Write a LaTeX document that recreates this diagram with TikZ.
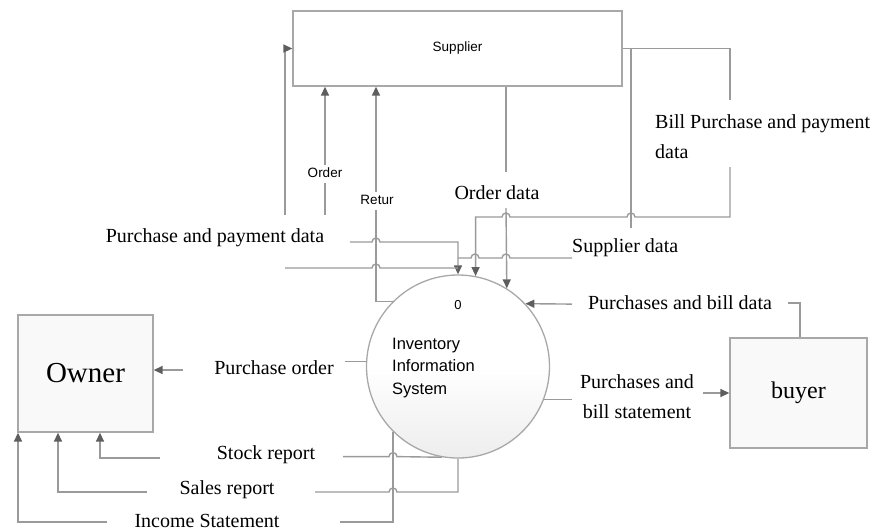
\documentclass[tikz,border=0pt]{standalone}
\usepackage{fontspec}
\setmainfont{Liberation Serif}
\newfontfamily\sansf{Liberation Sans}
\usetikzlibrary{arrows.meta}
\definecolor{lnc}{HTML}{9A9A9A}
\definecolor{ahc}{HTML}{5E5E5E}
\definecolor{bxc}{HTML}{A8A8A8}
\newcommand\jR[2]{-- ({#1-4},#2) arc[start angle=180,end angle=0,radius=4pt]}
\newcommand\jL[2]{-- ({#1+4},#2) arc[start angle=0,end angle=180,radius=4pt]}
\begin{document}
\begin{tikzpicture}[x=1pt,y=-1pt,
  flow/.style={draw=lnc, line width=1.4pt},
  arr/.style={flow, -{Triangle[length=9pt,width=8pt,color=ahc]}},
  lab/.style={font=\fontsize{20}{30}\selectfont, inner sep=0pt},
  slab/.style={font=\sansf\fontsize{13.5}{16}\selectfont, inner sep=0pt},
  ent/.style={draw=bxc, line width=1.3pt, rectangle}]
\useasboundingbox (0,0) rectangle (876,531);

% entities and process
\node[ent, minimum width=329pt, minimum height=75pt, fill=white,
      font=\sansf\fontsize{13.5}{15}\selectfont] (S) at (457.5,48.5) {Supplier};
\node[circle, draw=bxc, line width=1.3pt, minimum size=183pt, inner sep=0pt,
      top color=white, bottom color=gray!14, middle color=white] (P) at (458,366.5) {};
\node[ent, minimum width=135pt, minimum height=117pt, fill=gray!5,
      font=\fontsize{29}{34}\selectfont] (O) at (85.5,373.5) {Owner};
\node[ent, minimum width=137pt, minimum height=110pt, fill=gray!5,
      font=\fontsize{24}{28}\selectfont] (B) at (798.5,393) {buyer};

% texts
\node[font=\sansf\fontsize{13}{15}\selectfont, inner sep=0pt] (zero) at (458,305) {0};
\node[font=\sansf\fontsize{16.5}{22.5}\selectfont, align=left, anchor=west, inner sep=0pt]
      (iis) at (392,368) {Inventory\\Information\\System};
\node[slab] (ord) at (325,173) {Order};
\node[slab] (ret) at (377,200) {Retur};
\node[lab] (od) at (497,193) {Order data};
\node[lab, align=left, anchor=west] (bp) at (655,137) {Bill Purchase and payment\\data};
\node[lab, anchor=west] (sd) at (572,248) {Supplier data};
\node[lab] (ppd) at (215,238) {Purchase and payment data};
\node[lab] (pbd) at (680,303) {Purchases and bill data};
\node[lab, align=center] (pbs) at (637,397) {Purchases and\\bill statement};
\node[lab] (po) at (274,368) {Purchase order};
\node[lab] (sr) at (266,455) {Stock report};
\node[lab] (sar) at (227,490) {Sales report};
\node[lab] (inc) at (207,521) {Income Statement};

% coordinates for free ends
\coordinate (a1) at (285,215);
\coordinate (b1) at (350,242);
\coordinate (c1) at (285,268);
\coordinate (d1) at (572,258);
\coordinate (d2) at (631,228);
\coordinate (e0) at (730,48.5);
\coordinate (e1) at (730,100);
\coordinate (e2) at (730,167);
\coordinate (e3) at (730,217);
\coordinate (f1) at (506,172);
\coordinate (f2) at (506,208);
\coordinate (g1) at (325,165);
\coordinate (g2) at (325,183);
\coordinate (g3) at (325,215);
\coordinate (h1) at (376,192);
\coordinate (h2) at (376,210);
\coordinate (i1) at (572,304.1);
\coordinate (i2) at (788,303);
\coordinate (i3) at (800,303);
\coordinate (j1) at (572,398);
\coordinate (j2) at (703,393);
\coordinate (k1) at (345,370);
\coordinate (k2) at (183,370);
\coordinate (l1) at (343,456.6);
\coordinate (l2) at (160,458);
\coordinate (l3) at (100,458);
\coordinate (m1) at (315,492);
\coordinate (m2) at (147,492);
\coordinate (m3) at (58,492);
\coordinate (n1) at (340,522);
\coordinate (n2) at (107,522);
\coordinate (n3) at (18,522);

% Purchase and payment data
\draw[arr] (a1) |- (S.west);
\draw[arr] (b1) \jR{376}{242} -| (P.north);
\draw[flow] (c1) \jR{376}{268} -- (P.north |- c1);
% Supplier data
\draw[flow] (d1) \jL{506}{258} \jL{475}{258} -- (P.north |- d1);
\draw[flow] (d2) -- (d2 |- e0);
% Bill purchase and payment data
\draw[flow] (S.east) -- (e0) -- (e1);
\draw[arr] (e2) -- (e3) \jL{631}{217} \jL{506}{217} -| (P.79);
% Order data
\draw[flow] (f1) -- (f1 |- S.south);
\draw[arr] (f2) -- (P.58);
% Order
\draw[arr] (g1) -- (g1 |- S.south);
\draw[flow] (g2) -- (g3);
% Retur
\draw[arr] (h1) -- (h1 |- S.south);
\draw[flow] (h2) |- (P.135);
% buyer flows
\draw[arr] (i1) -- (P.43);
\draw[flow] (i2) -- (i3) -- (i3 |- B.north);
\draw[flow] (P.-21) -- (P.-21 -| j1);
\draw[arr] (j2) -- (j2 -| B.west);
% Owner flows
\draw[flow] (P.177) -- (P.177 -| k1);
\draw[arr] (k2) -- (k2 -| O.east);
\draw[flow] (P.-100) \jL{393}{456.6} -- (l1);
\draw[arr] (l2) -- (l3) -- (l3 |- O.south);
\draw[flow] (P.south) -- (P.south |- m1) \jL{393}{492} -- (m1);
\draw[arr] (m2) -- (m3) -- (m3 |- O.south);
\draw[flow] (P.-135) |- (n1);
\draw[arr] (n2) -- (n3) -- (n3 |- O.south);
\end{tikzpicture}
\end{document}
